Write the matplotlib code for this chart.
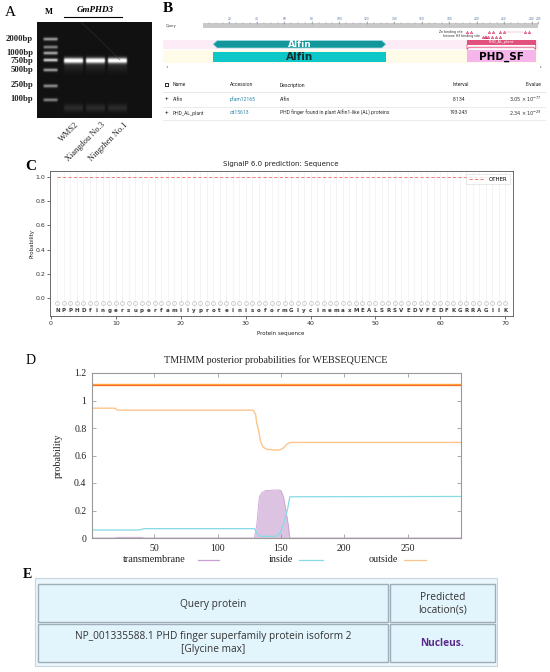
import numpy as np
import matplotlib
matplotlib.use('Agg')
import matplotlib.pyplot as plt
from matplotlib.patches import Rectangle, Polygon

# ---------------- data ----------------
# Panel A (gel)
gel_lanes = ['WMS2', 'Xiangdou No.3', 'Ningzhen No.1']
marker_labels = ['2000bp', '1000bp', '750bp', '500bp', '250bp', '100bp']
marker_label_rows = [39, 53, 61, 70, 85, 99]
marker_band_rows = [39, 47, 53, 60, 70, 86, 100]
marker_band_int = [0.55, 0.45, 0.6, 0.75, 0.55, 0.5, 0.45]
sample_band_row = 60.5
sample_band_int = [1.0, 1.0, 1.0]

# Panel B (CDD)
cdd_length = 245
cdd_ticks = [20, 40, 60, 80, 100, 120, 140, 160, 180, 200, 220, 240, 245]
specific_hits = [('Alfin', 8, 134), ('PHD_AL_plant', 193, 243)]
superfamily = [('Alfin', 8, 134), ('PHD_SF', 193, 243)]
zn_sites = [193, 196, 209, 212, 217, 220, 235, 238]
h3_sites = [205, 206, 207, 208, 211, 214, 217]
cdd_names = ['Alfin', 'PHD_AL_plant']
cdd_acc = ['pfam12165', 'cd15613']
cdd_desc = ['Alfin', 'PHD finger found in plant Alfin1-like (AL) proteins']
cdd_interval = ['8-134', '193-243']
cdd_evalue = [r'$3.05\times10^{-77}$', r'$2.34\times10^{-29}$']

# Panel C (SignalP)
signalp_seq = list('NPPHDfingersuperfamilyproteinisoformGlycinemaxMEALSRSVEDVFEDFKGRRAGIIK')
signalp_other = [1.0] * len(signalp_seq)
signalp_xticks = [0, 10, 20, 30, 40, 50, 60, 70]

# Panel D (TMHMM)
out_x = [1, 19, 21, 128, 130, 131, 132, 134, 136, 139, 145, 149, 152, 155, 158, 292]
out_y = [0.944, 0.944, 0.93, 0.93, 0.9, 0.83, 0.8, 0.7, 0.66, 0.645, 0.64, 0.64, 0.655, 0.685, 0.695, 0.695]
in_x = [1, 38, 42, 129, 131, 133, 146, 149, 152, 155, 157, 292]
in_y = [0.058, 0.058, 0.068, 0.068, 0.04, 0.012, 0.012, 0.03, 0.1, 0.2, 0.3, 0.302]
tm_x = [1, 19, 21, 40, 42, 129, 131, 132, 133, 135, 138, 148, 150, 152, 154, 156, 157, 292]
tm_y = [0, 0, 0.005, 0.005, 0, 0, 0.1, 0.2, 0.3, 0.33, 0.345, 0.35, 0.345, 0.3, 0.2, 0.08, 0, 0]
topology_level = 1.11
tm_xticks = [50, 100, 150, 200, 250]
tm_yticks = [0, 0.2, 0.4, 0.6, 0.8, 1, 1.2]
tm_ytick_labels = ['0', '0.2', '0.4', '0.6', '0.8', '1', '1.2']

# Panel E (table)
table_header = ['Query protein', 'Predicted\nlocation(s)']
table_row = ['NP_001335588.1 PHD finger superfamily protein isoform 2\n[Glycine max]', 'Nucleus.']

# ---------------- figure ----------------
W, H = 550, 672
fig = plt.figure(figsize=(5.5, 6.72), dpi=100)
fig.patch.set_facecolor('white')


def box(x0, y0, x1, y1):
    return [x0 / W, 1 - y1 / H, (x1 - x0) / W, (y1 - y0) / H]


ax0 = fig.add_axes([0, 0, 1, 1], zorder=-1)
ax0.set_xlim(0, W)
ax0.set_ylim(H, 0)
ax0.axis('off')

SERIF = 'Liberation Serif'

# panel letters
ax0.text(10, 12, 'A', fontsize=11, family=SERIF, ha='center', va='center')
ax0.text(168, 9, 'B', fontsize=11, family=SERIF, weight='bold', ha='center', va='center')
ax0.text(31, 166, 'C', fontsize=11, family=SERIF, weight='bold', ha='center', va='center')
ax0.text(31, 361, 'D', fontsize=10, family=SERIF, ha='center', va='center')
ax0.text(27, 575, 'E', fontsize=10, family=SERIF, weight='bold', ha='center', va='center')

# ---------------- Panel A: gel ----------------
gx0, gy0, gx1, gy1 = 37, 22, 152, 118
axA = fig.add_axes(box(gx0, gy0, gx1, gy1))
ys = np.linspace(gy0, gy1, 288)
xs = np.linspace(gx0, gx1, 345)
XX, YY = np.meshgrid(xs, ys)
img = np.full(XX.shape, 0.07)


def lane_mask(cx, w):
    return 1 / (1 + np.exp(-(XX - (cx - w / 2)) * 2.5)) * 1 / (1 + np.exp((XX - (cx + w / 2)) * 2.5))


m_mask = lane_mask(50.5, 14)
for r, it in zip(marker_band_rows, marker_band_int):
    img += it * m_mask * np.exp(-0.5 * ((YY - r) / 1.1) ** 2)
for cx, it in zip([73.5, 95.5, 117.5], sample_band_int):
    msk = lane_mask(cx, 19)
    img += it * msk * np.exp(-0.5 * ((YY - sample_band_row) / 1.9) ** 2)
    img += 0.07 * msk * np.exp(-0.5 * ((YY - 66) / 4) ** 2)
    img += 0.1 * msk * np.exp(-0.5 * ((YY - 108) / 2.5) ** 2)
img = np.clip(img, 0, 1)
axA.imshow(img, cmap='gray', vmin=0, vmax=1, extent=[gx0, gx1, gy1, gy0], aspect='auto',
           interpolation='bilinear')
axA.plot([82, 100, 120], [23, 40, 60], color='#3a3a3a', lw=0.5, alpha=0.6)
axA.set_xlim(gx0, gx1)
axA.set_ylim(gy1, gy0)
axA.axis('off')

for lab, r in zip(marker_labels, marker_label_rows):
    ax0.text(33, r, lab, fontsize=6.2, family=SERIF, weight='bold', ha='right', va='center', color='#222')
ax0.text(49, 12, 'M', fontsize=6, family=SERIF, weight='bold', ha='center', va='center')
ax0.text(95, 10.5, 'GmPHD3', fontsize=6.5, family=SERIF, style='italic', weight='bold',
         ha='center', va='center')
ax0.plot([64, 122], [17, 17], color='black', lw=0.8)
for lab, cx in zip(gel_lanes, [75, 101, 124]):
    ax0.text(cx, 121, lab, fontsize=6, family=SERIF, rotation=45, rotation_mode='anchor',
             ha='right', va='top', color='#222')

# ---------------- Panel B: CDD ----------------
px_per_res = 1.373
res1_px = 203.4
bx0, bx1 = 163, 545
axB = fig.add_axes(box(bx0, 14, bx1, 70))
axB.set_xlim(1 + (bx0 - res1_px) / px_per_res, 1 + (bx1 - res1_px) / px_per_res)
axB.set_ylim(70, 14)
axB.axis('off')
rl = 1 + (bx0 - res1_px) / px_per_res
rr = cdd_length

# ruler
axB.add_patch(Rectangle((1, 22.5), cdd_length - 1, 5, fc='#c9c9c9', ec='none'))
axB.vlines(np.arange(5, cdd_length + 1, 5), 21.8, 23.5, color='#9a9a9a', lw=0.3)
for t in cdd_ticks:
    axB.vlines(t, 20.5, 23.5, color='#8a8a8a', lw=0.4)
    axB.text(t, 18.5, str(t), fontsize=2.2, color='#5577aa', ha='center', va='center')

# row backgrounds
axB.add_patch(Rectangle((rl, 40), rr - rl, 8.5, fc='#fdebf6', ec='none'))
axB.add_patch(Rectangle((rl, 50), rr - rl, 12.5, fc='#fefce8', ec='none'))

# site annotations
ax0.text(463, 31.5, 'Zn binding site', fontsize=2.3, ha='right', va='center', color='#333')
ax0.text(480, 36.5, 'histone H3 binding site', fontsize=2.3, ha='right', va='center', color='#333')
axB.plot(zn_sites, [31.5] * len(zn_sites), ls='none', marker='^', ms=1.6, mfc='none',
         mec='#d8335f', mew=0.5)
axB.plot([221, 234], [31.5, 31.5], color='#e88aa8', lw=0.3)
axB.plot(h3_sites, [36.5] * len(h3_sites), ls='none', marker='^', ms=1.6, mfc='none',
         mec='#d8335f', mew=0.5)

# specific hits
name, s, e = specific_hits[0]
top, bot = 40.5, 48.0
mid = (top + bot) / 2
axB.add_patch(Polygon([(s, mid), (s + 3, top), (e - 3, top), (e, mid), (e - 3, bot), (s + 3, bot)],
                      closed=True, fc='#14979b', ec='#a4e4e6', lw=0.5))
axB.text((s + e) / 2, mid + 0.3, name, fontsize=6.5, weight='bold', color='white', ha='center', va='center')
name, s, e = specific_hits[1]
axB.add_patch(Polygon([(s, 44.5), (e, 44.5), (e, 49.5), (e - 1.5, 47.2), (s + 1.5, 47.2), (s, 49.5)],
                      closed=True, fc='white', ec='#e4507e', lw=0.6))
axB.add_patch(Rectangle((s, 40), e - s, 4.7, fc='#e2507d', ec='none'))
axB.text((s + e) / 2, 42.4, name, fontsize=2.6, color='white', ha='center', va='center')

# superfamily
name, s, e = superfamily[0]
axB.add_patch(Rectangle((s, 51.5), e - s, 10.5, fc='#0ec7c9', ec='none'))
axB.text((s + e) / 2, 56.8, name, fontsize=7.5, weight='bold', color='#123333', ha='center', va='center')
name, s, e = superfamily[1]
axB.add_patch(Rectangle((s, 49.8), e - s, 12.2, fc='#f6b6ec', ec='none'))
axB.text((s + e) / 2, 56.5, name, fontsize=7.5, weight='bold', color='black', ha='center', va='center')

ax0.text(166, 26, 'Query', fontsize=2.5, color='#333', va='center')
ax0.text(166, 43.5, 'Specific hits', fontsize=2.5, color='#333', va='center')
ax0.text(166, 53.5, 'Superfamily arch.', fontsize=2.5, color='#333', va='center')
ax0.text(167, 66, '\u25c2', fontsize=3, color='#999', ha='center', va='center')
ax0.text(541, 66, '\u25b8', fontsize=3, color='#999', ha='center', va='center')

# B table
TF = 'Roboto'
fs_t = 3.6
hy = 85
ax0.add_patch(Rectangle((164.5, hy - 2), 4, 4, fc='#333', ec='none'))
ax0.add_patch(Rectangle((165.5, hy - 1), 2, 2, fc='white', ec='none'))
ax0.text(173, hy, 'Name', fontsize=fs_t, family=TF, va='center', color='#222')
ax0.text(230, hy, 'Accession', fontsize=fs_t, family=TF, va='center', color='#222')
ax0.text(280, hy, 'Description', fontsize=fs_t, family=TF, va='center', color='#222')
ax0.text(461, hy, 'Interval', fontsize=fs_t, family=TF, va='center', ha='center', color='#222')
ax0.text(542, hy, 'E-value', fontsize=fs_t, family=TF, va='center', ha='right', color='#222')
ax0.plot([163, 545], [92, 92], color='#dddddd', lw=0.5)
for i, ry in enumerate([99.5, 113]):
    ax0.text(167, ry, '+', fontsize=4.5, family=TF, va='center', ha='center', color='#333')
    ax0.text(173, ry, cdd_names[i], fontsize=fs_t, family=TF, va='center', color='#333')
    ax0.text(230, ry, cdd_acc[i], fontsize=fs_t, family=TF, va='center', color='#2f86a8')
    ax0.text(280, ry, cdd_desc[i], fontsize=fs_t, family=TF, va='center', color='#333')
    ax0.text(459, ry, cdd_interval[i], fontsize=fs_t, family=TF, va='center', ha='center', color='#333')
    ax0.text(542, ry, cdd_evalue[i], fontsize=fs_t, family=TF, va='center', ha='right', color='#333')
    ax0.plot([163, 545], [ry + 7, ry + 7], color='#e3e3e3', lw=0.5)

# ---------------- Panel C: SignalP ----------------
axC = fig.add_axes(box(50, 171, 513, 316))
pos = np.arange(1, len(signalp_seq) + 1)
for p in pos:
    axC.axvline(p, color='#f0f0f0', lw=0.5, zorder=0)
axC.plot(pos, signalp_other, color='#f06b6b', lw=0.6, ls=(0, (4, 2.5)), label='OTHER')
axC.plot(pos, [-0.04] * len(pos), ls='none', marker='o', ms=2.8, mfc='none', mec='#b0b0b0', mew=0.4)
for p, ch in zip(pos, signalp_seq):
    axC.text(p, -0.1, ch, fontsize=4, weight='bold', color='#3a3a3a', ha='center', va='center')
axC.set_xlim(-0.15, 71.2)
axC.set_ylim(-0.149, 1.05)
axC.set_xticks(signalp_xticks)
axC.set_yticks([0, 0.2, 0.4, 0.6, 0.8, 1.0])
axC.set_yticklabels(['0.0', '0.2', '0.4', '0.6', '0.8', '1.0'])
axC.tick_params(labelsize=4.5, length=2, width=0.5, colors='#333', pad=1.5)
for sp in axC.spines.values():
    sp.set_color('#555')
    sp.set_linewidth(0.6)
leg = axC.legend(loc='upper right', fontsize=4, frameon=True, handlelength=2.8,
                 borderpad=0.4, fancybox=False, borderaxespad=0.6)
leg.get_frame().set_edgecolor('#cccccc')
leg.get_frame().set_linewidth(0.4)
ax0.text(281, 164, 'SignalP 6.0 prediction: Sequence', fontsize=5, ha='center', va='center', color='#222')
ax0.text(281, 333, 'Protein sequence', fontsize=4, ha='center', va='center', color='#222')
ax0.text(32, 243, 'Probability', fontsize=4, rotation=90, ha='center', va='center', color='#222')

# ---------------- Panel D: TMHMM ----------------
axD = fig.add_axes(box(92, 373, 461, 538))
axD.fill_between(tm_x, tm_y, 0, color='#dcc3e2', lw=0)
axD.plot(tm_x, tm_y, color='#c9a2d3', lw=0.6)
axD.plot(in_x, in_y, color='#86dbe6', lw=0.9)
axD.plot(out_x, out_y, color='#fdc48e', lw=1.0)
axD.plot([1, 292], [topology_level, topology_level], color='#ffa231', lw=1.7, solid_capstyle='butt')
axD.plot([1, 292], [topology_level, topology_level], color='#f0603a', lw=0.6, solid_capstyle='butt')
axD.set_xlim(1, 292)
axD.set_ylim(0, 1.2)
axD.set_xticks(tm_xticks)
axD.set_yticks(tm_yticks)
axD.set_yticklabels(tm_ytick_labels)
axD.tick_params(direction='in', top=True, right=True, length=3, width=0.5, color='#888',
                labelsize=7, labelcolor='#222', pad=4)
for lab in axD.get_xticklabels() + axD.get_yticklabels():
    lab.set_family(SERIF)
for sp in axD.spines.values():
    sp.set_color('#999')
    sp.set_linewidth(0.8)
ax0.text(276, 360, 'TMHMM posterior probabilities for WEBSEQUENCE', fontsize=7.3, family=SERIF,
         ha='center', va='center', color='#222')
ax0.text(58, 456, 'probability', fontsize=7.3, family=SERIF, rotation=90, ha='center', va='center',
         color='#222')
for lab, tx, lx0, lx1, col in [('transmembrane', 186, 198, 219, '#c9a2d3'),
                               ('inside', 293, 299, 323, '#86dbe6'),
                               ('outside', 398, 404, 426, '#fdc48e')]:
    ax0.text(tx, 560, lab, fontsize=7.3, family=SERIF, ha='right', va='center', color='#222')
    ax0.plot([lx0, lx1], [560, 560], color=col, lw=0.9)

# ---------------- Panel E: table ----------------
NS = 'Open Sans'
ax0.add_patch(Rectangle((35, 578), 462, 88, fc='#eaf6fc', ec='#c8d6df', lw=0.8))
cells = [(38, 584, 388, 622), (390, 584, 495, 622), (38, 624, 388, 662), (390, 624, 495, 662)]
for (x0, y0, x1, y1) in cells:
    ax0.add_patch(Rectangle((x0, y0), x1 - x0, y1 - y0, fc='#e2f4fc', ec='#9eadb9', lw=1.0))
ax0.text(213, 604, table_header[0], fontsize=7.3, family=NS, ha='center', va='center', color='#333')
ax0.text(442.5, 604, table_header[1], fontsize=7.3, family=NS, ha='center', va='center',
         color='#333', linespacing=1.2)
ax0.text(213, 643, table_row[0], fontsize=7.3, family=NS, ha='center', va='center', color='#333',
         linespacing=1.2)
ax0.text(442.5, 643, table_row[1], fontsize=7.3, family=NS, weight='bold', ha='center', va='center',
         color='#5b2b8c')

fig.savefig('out.png', dpi=100, facecolor='white')
